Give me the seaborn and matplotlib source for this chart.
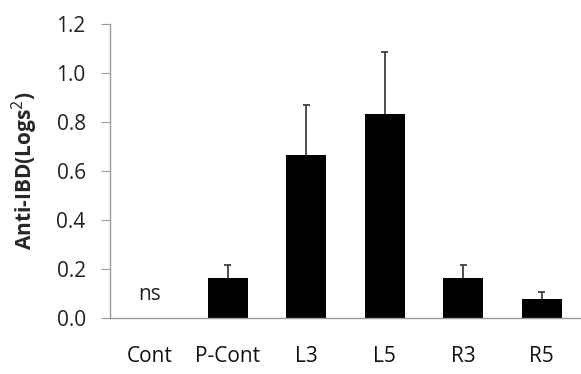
import matplotlib
matplotlib.use("Agg")
import matplotlib.pyplot as plt
import seaborn as sns
import numpy as np
import pandas as pd

categories = ["Cont", "P-Cont", "L3", "L5", "R3", "R5"]
means = [0.0, 0.162, 0.664, 0.831, 0.162, 0.078]
upper = [0.0, 0.215, 0.868, 1.084, 0.215, 0.105]
ytick_vals = [0.0, 0.2, 0.4, 0.6, 0.8, 1.0, 1.2]

sns.set_style("white")
plt.rcParams['font.family'] = ['Open Sans', 'DejaVu Sans']

df = pd.DataFrame({"cat": categories, "val": means})
fig = plt.figure(figsize=(5.81, 3.74), dpi=100)
ax = fig.add_axes([110/581, 1-318/374, 1-110/581, (318-24)/374])
sns.barplot(data=df, x="cat", y="val", color="black", width=0.51, ax=ax,
            saturation=1, linewidth=0)
x = np.arange(len(categories))
m = np.array(means)
u = np.array(upper)
mask = u > m
ax.vlines(x[mask], m[mask], u[mask], color="#404040", linewidth=1.3, zorder=3)
ax.hlines(u[mask], x[mask] - 0.045, x[mask] + 0.045, color="#404040", linewidth=1.3, zorder=3)
ax.text(0, 0.055, "ns", ha="center", va="bottom", fontsize=15, color="#222222")

ax.set_xlim(-0.5, 5.5)
ax.set_ylim(0, 1.2)
ax.set_yticks(ytick_vals)
ax.set_yticklabels([f"{v:.1f}" for v in ytick_vals])
ax.set_xlabel("")
ax.set_ylabel("Anti-IBD(Logs$^2$)", fontsize=15, fontweight="bold", labelpad=12)
for s in ["top", "right"]:
    ax.spines[s].set_visible(False)
for s in ["left", "bottom"]:
    ax.spines[s].set_color("#999999")
    ax.spines[s].set_linewidth(1)
ax.tick_params(axis="y", which="major", direction="out", length=6.5, color="#999999",
               labelsize=15, labelcolor="#222222", left=True, pad=11)
ax.tick_params(axis="x", which="major", length=0, labelsize=15, labelcolor="#111111", pad=20)
ax.set_xticks(np.arange(-0.5, 6, 1.0), minor=True)
ax.tick_params(axis="x", which="minor", direction="out", length=8.5, color="#999999", width=1)
fig.savefig("out.png", dpi=100)
